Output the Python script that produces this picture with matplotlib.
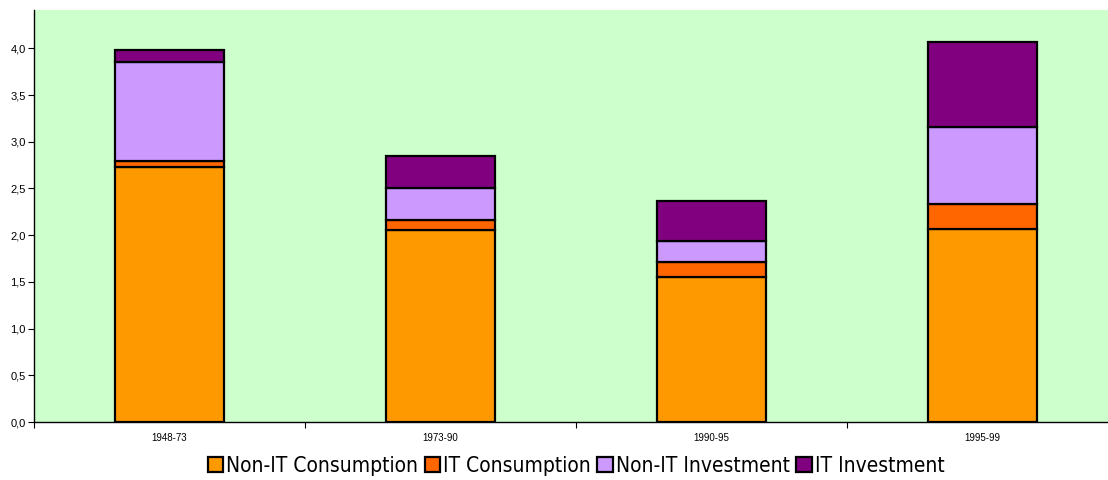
import matplotlib
matplotlib.use("Agg")
import matplotlib.pyplot as plt
from matplotlib.ticker import FixedLocator, FuncFormatter
from matplotlib.font_manager import FontProperties
import numpy as np

periods = ["1948-73", "1973-90", "1990-95", "1995-99"]
series_names = ["Non-IT Consumption", "IT Consumption", "Non-IT Investment", "IT Investment"]
non_it_consumption = [2.73, 2.06, 1.55, 2.07]
it_consumption = [0.06, 0.10, 0.16, 0.26]
non_it_investment = [1.06, 0.34, 0.23, 0.83]
it_investment = [0.13, 0.35, 0.43, 0.91]
colors = ["#FF9900", "#FF6600", "#CC99FF", "#800080"]
y_ticks = [0.0, 0.5, 1.0, 1.5, 2.0, 2.5, 3.0, 3.5, 4.0]

plt.rcParams["font.family"] = ["Liberation Sans", "DejaVu Sans"]

fig = plt.figure(figsize=(11.08, 4.8), dpi=100)
ax = fig.add_axes([34 / 1108, 1 - 422 / 480, 1084 / 1108, 412 / 480])
ax.set_facecolor("#CCFFCC")

x = np.arange(len(periods))
bottom = np.zeros(len(periods))
handles = []
for name, vals, col in zip(series_names,
                           [non_it_consumption, it_consumption, non_it_investment, it_investment],
                           colors):
    h = ax.bar(x, vals, width=0.4, bottom=bottom, color=col, edgecolor="black",
               linewidth=1.6, label=name, zorder=3)
    handles.append(h)
    bottom += np.array(vals)

ax.set_xlim(-0.5, len(periods) - 0.5)
ax.set_ylim(0, 4.41)
ax.yaxis.set_major_locator(FixedLocator(y_ticks))
ax.yaxis.set_major_formatter(FuncFormatter(lambda v, p: f"{v:.1f}".replace(".", ",")))
ax.tick_params(axis="y", labelsize=8, length=4, width=0.8, pad=2)

ax.set_xticks(x)
ax.set_xticklabels(periods, fontsize=7)
ax.tick_params(axis="x", length=0, pad=8)
ax.xaxis.set_minor_locator(FixedLocator(np.arange(-0.5, len(periods) + 0.5, 1.0)))
ax.tick_params(axis="x", which="minor", length=4, width=0.8)

for s in ["top", "right"]:
    ax.spines[s].set_visible(False)
for s in ["left", "bottom"]:
    ax.spines[s].set_linewidth(1.0)
    ax.spines[s].set_color("black")

legend_font = FontProperties(family="DejaVu Sans", stretch="condensed", size=15)
fig.legend(handles=handles, labels=series_names, loc="center",
           bbox_to_anchor=(0.52, 1 - 466 / 480), ncol=4, frameon=False,
           prop=legend_font, handlelength=0.75, handleheight=0.75, handletextpad=0.15,
           columnspacing=0.3, borderaxespad=0)

fig.savefig("out.png", dpi=100)
